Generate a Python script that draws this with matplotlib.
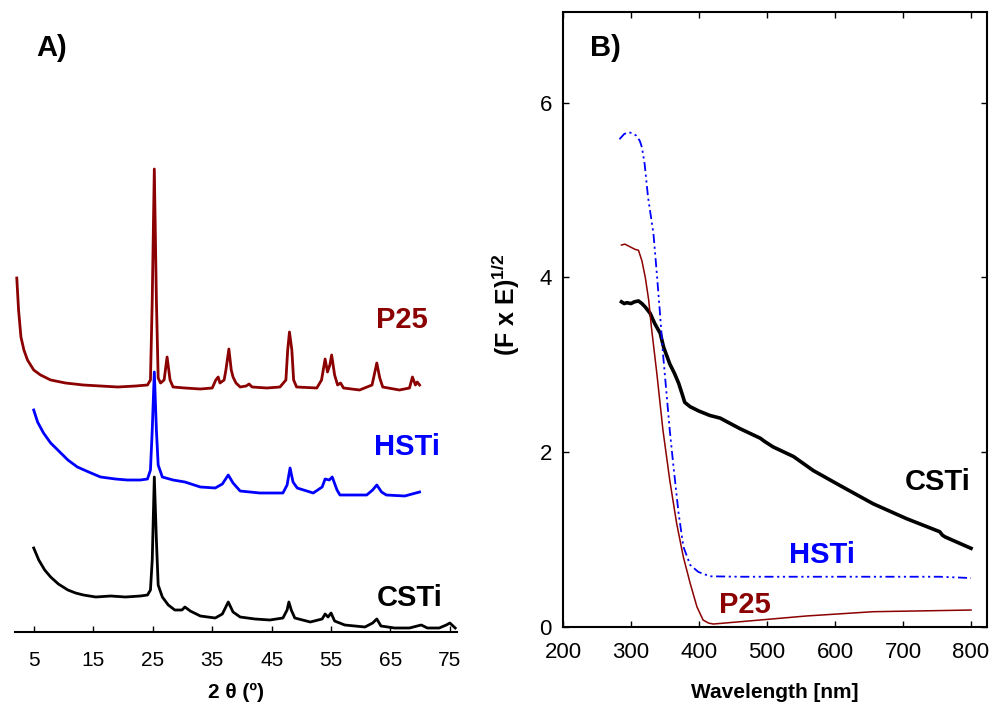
import matplotlib
matplotlib.use("Agg")
import matplotlib.pyplot as plt

plt.rcParams['font.family'] = ['Liberation Sans', 'DejaVu Sans']
plt.rcParams['mathtext.fontset'] = 'custom'
plt.rcParams['mathtext.rm'] = 'Liberation Sans'
plt.rcParams['mathtext.bf'] = 'Liberation Sans:bold'

# ---------------- Panel A: XRD (2theta, offset intensity in a.u.) ----------------
cst_2t = [4.95, 5.8, 6.8, 7.8, 9.1, 10.7, 12.0, 13.3, 15.4, 17.9, 20.4, 22.9, 24.1, 24.6, 24.9,
          25.25, 25.6, 25.9, 26.6, 27.6, 28.7, 29.9, 30.4, 31.3, 33.0, 35.5, 36.7, 37.7, 38.5,
          39.7, 42.2, 44.7, 46.9, 47.6, 47.9, 48.3, 48.9, 51.5, 53.5, 54.0, 54.5, 55.0, 55.6,
          57.3, 60.7, 62.0, 62.7, 63.4, 65.7, 68.2, 69.5, 70.2, 71.2, 73.2, 74.4, 75.0, 75.9]
cst_int = [84, 72, 62, 55, 48, 42, 39, 37, 35, 36, 35, 36, 37, 42, 72,
           155, 92, 47, 35, 27, 22, 22, 25, 21, 16, 14, 18, 30, 20,
           15, 13, 12, 14, 22, 30, 22, 14, 10, 13, 18, 15, 19, 11,
           7, 5, 9, 13, 6, 4, 4, 6, 7, 4, 4, 7, 9, 4]

hst_2t = [4.95, 5.6, 6.6, 7.8, 9.0, 10.7, 12.3, 14.2, 16.2, 18.7, 20.7, 22.9, 24.1, 24.6, 24.9,
          25.25, 25.6, 25.9, 26.6, 28.4, 30.4, 33.0, 35.5, 36.7, 37.7, 38.5, 39.7, 43.0, 46.9,
          47.6, 48.1, 48.6, 49.3, 52.0, 53.5, 54.0, 54.7, 55.2, 56.0, 56.5, 61.0, 62.0, 62.7,
          63.5, 64.3, 67.4, 69.9]
hst_int = [222, 210, 199, 189, 182, 172, 165, 160, 155, 153, 152, 152, 153, 162, 202,
           260, 202, 167, 155, 152, 150, 145, 144, 148, 157, 149, 141, 139, 139,
           147, 164, 150, 144, 139, 145, 153, 152, 155, 142, 137, 137, 142, 147,
           140, 137, 136, 140]

p25_2t = [2.1, 2.4, 2.8, 3.3, 3.9, 4.95, 6.1, 7.8, 10.3, 13.3, 16.2, 19.1, 22.1, 24.1, 24.6,
          24.9, 25.25, 25.6, 25.9, 26.3, 26.9, 27.4, 27.9, 28.4, 30.4, 33.0, 35.0, 35.6, 36.0,
          36.3, 37.0, 37.3, 37.8, 38.2, 38.5, 39.0, 39.7, 40.7, 41.2, 41.7, 44.2, 46.4, 47.4,
          47.7, 48.0, 48.4, 48.7, 49.2, 52.6, 53.4, 54.0, 54.4, 54.8, 55.1, 55.6, 56.1, 56.6,
          57.1, 59.8, 61.9, 62.7, 63.2, 63.7, 66.5, 68.2, 68.7, 69.2, 69.5, 69.9]
p25_int = [354, 322, 295, 282, 272, 262, 257, 252, 249, 247, 246, 245, 246, 247, 252,
           332, 463, 332, 254, 249, 252, 275, 252, 245, 244, 243, 244, 252, 255,
           249, 252, 262, 283, 262, 255, 249, 245, 246, 248, 245, 244, 245, 252,
           282, 300, 282, 252, 245, 244, 252, 273, 260, 267, 277, 257, 247, 249,
           244, 242, 247, 269, 254, 245, 242, 244, 255, 247, 250, 247]

xrd_ticks = [5, 15, 25, 35, 45, 55, 65, 75]

# ---------------- Panel B: (F x E)^1/2 vs wavelength ----------------
cst_wl = [286, 290, 294, 300, 305, 311, 316, 321, 328, 335, 343, 348, 357, 364, 370, 375, 379,
          387, 400, 416, 431, 460, 490, 497, 509, 539, 568, 607, 656, 705, 754, 758, 762, 800]
cst_fe = [3.72, 3.70, 3.71, 3.70, 3.72, 3.73, 3.70, 3.66, 3.59, 3.47, 3.36, 3.20, 3.01, 2.90,
          2.79, 2.67, 2.57, 2.52, 2.47, 2.42, 2.39, 2.27, 2.16, 2.12, 2.06, 1.95, 1.79, 1.62,
          1.41, 1.24, 1.09, 1.05, 1.03, 0.90]

hst_wl = [283, 290, 296, 302, 308, 313, 316, 320, 325, 333, 338, 343, 347, 351, 357, 362, 370,
          377, 387, 399, 416, 460, 607, 754, 800]
hst_fe = [5.58, 5.64, 5.66, 5.65, 5.62, 5.56, 5.49, 5.30, 4.92, 4.50, 4.04, 3.55, 3.13, 2.78,
          2.25, 1.87, 1.30, 0.92, 0.71, 0.63, 0.58, 0.575, 0.575, 0.575, 0.56]

p25_wl = [286, 291, 296, 301, 306, 311, 316, 321, 326, 330, 338, 347, 357, 367, 377, 387, 397,
          406, 414, 421, 460, 558, 656, 800]
p25_fe = [4.37, 4.38, 4.36, 4.34, 4.32, 4.31, 4.19, 4.00, 3.74, 3.43, 2.90, 2.25, 1.68, 1.19,
          0.80, 0.50, 0.23, 0.08, 0.045, 0.034, 0.06, 0.126, 0.175, 0.194]

wl_ticks = [200, 300, 400, 500, 600, 700, 800]
fe_ticks = [0, 2, 4, 6]

BROWN = '#8B0000'
BLUE = '#0000FF'
BLACK = '#000000'

W, H = 993, 713
fig = plt.figure(figsize=(W / 100, H / 100), dpi=100)

def frac_axes(l, t, r, b):
    return fig.add_axes([l / W, 1 - b / H, (r - l) / W, (b - t) / H])

# ---- Panel A ----
axA = frac_axes(15, 12, 457, 632)
axA.plot(cst_2t, cst_int, color=BLACK, lw=2.0)
axA.plot(hst_2t, hst_int, color=BLUE, lw=2.0)
axA.plot(p25_2t, p25_int, color=BROWN, lw=2.0)
axA.set_xlim(1.8, 76.2)
axA.set_ylim(0, 620)
for s in ['left', 'right', 'top']:
    axA.spines[s].set_visible(False)
axA.spines['bottom'].set_linewidth(1.5)
axA.set_yticks([])
axA.set_xticks(xrd_ticks)
axA.tick_params(axis='x', direction='in', length=4, width=1, labelsize=15, pad=14)
axA.set_xlabel('2 θ (º)', fontsize=15, fontweight='bold', labelpad=9)
axA.text(67.0, 312, 'P25', color=BROWN, fontsize=21, fontweight='bold', ha='center', va='center')
axA.text(67.7, 185, 'HSTi', color=BLUE, fontsize=21, fontweight='bold', ha='center', va='center')
axA.text(68.2, 34, 'CSTi', color=BLACK, fontsize=21, fontweight='bold', ha='center', va='center')
fig.text(52 / W, 1 - 48 / H, 'A)', fontsize=21, fontweight='bold', ha='center', va='center')

# ---- Panel B ----
axB = frac_axes(563, 12.5, 987, 627)
axB.plot(cst_wl, cst_fe, color=BLACK, lw=2.6)
axB.plot(hst_wl, hst_fe, color=BLUE, lw=1.3, linestyle=(0, (5, 2, 1.2, 2, 1.2, 2)))
axB.plot(p25_wl, p25_fe, color=BROWN, lw=1.1)
axB.set_xlim(200, 823.5)
axB.set_ylim(0, 7.03)
axB.set_xticks(wl_ticks)
axB.set_yticks(fe_ticks)
for s in axB.spines.values():
    s.set_linewidth(1.5)
axB.tick_params(direction='in', length=4, width=1, labelsize=16, top=True, right=True)
axB.tick_params(axis='x', pad=11)
axB.tick_params(axis='y', pad=8)
axB.set_xlabel('Wavelength [nm]', fontsize=15, fontweight='bold', labelpad=14)
axB.set_ylabel(r'(F x E)$^{\mathbf{1/2}}$', fontsize=18, fontweight='bold')
axB.yaxis.set_label_coords(-0.097, 0.524)
axB.text(751.5, 1.66, 'CSTi', color=BLACK, fontsize=21, fontweight='bold', ha='center', va='center')
axB.text(581, 0.82, 'HSTi', color=BLUE, fontsize=21, fontweight='bold', ha='center', va='center')
axB.text(467.6, 0.25, 'P25', color=BROWN, fontsize=21, fontweight='bold', ha='center', va='center')
fig.text(605 / W, 1 - 48 / H, 'B)', fontsize=21, fontweight='bold', ha='center', va='center')

fig.savefig('out.png', dpi=100)
